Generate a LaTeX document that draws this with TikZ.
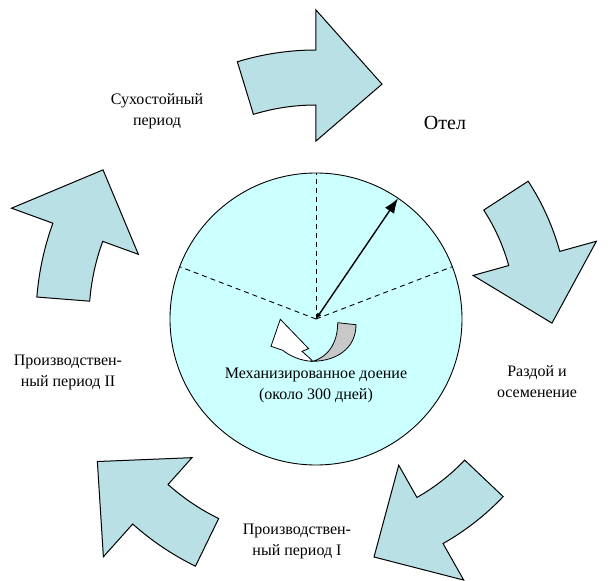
\documentclass[tikz,border=0pt]{standalone}
\usepackage{fontspec}
\setmainfont{Liberation Serif}
\RequirePackage{xcolor}
\definecolor{cyclegrey}{RGB}{185,224,228}
\definecolor{dialcyan}{RGB}{204,255,255}
\definecolor{bandgrey}{RGB}{200,200,200}
\usetikzlibrary{arrows.meta}
\tikzset{
  cyclearrow/.style={draw=black, line width=1pt, fill=cyclegrey, line join=miter},
  phase/.style={align=center, font=\fontsize{16}{21}\selectfont, inner sep=0pt},
}

\begin{document}
\begin{tikzpicture}[x=1pt, y=1pt]
  \useasboundingbox (-316,-262) rectangle (292,319);
  \coordinate (c) at (0,0);

  % milking dial
  \draw [fill=dialcyan, line width=0.9pt] (c) circle [radius=146];
  \foreach \a in {90,159,21} {
    \draw [dashed, line width=0.9pt, dash pattern=on 5pt off 4pt] (c) -- (\a:146);
  }
  \coordinate (hand) at (55.8:146);
  \draw [{Latex[length=6pt,width=5pt]}-{Latex[length=15pt,width=11pt]}, line width=1.4pt] (c) -- (hand);

  % small u-turn arrow
  \draw [fill=bandgrey, line width=0.8pt] (21.7,-3.7) -- (40,-5.7) .. controls (40,-29) and (21,-42) .. (-3.3,-42.3)
    .. controls (12,-38) and (21.7,-24) .. (21.7,-3.7) -- cycle;
  \draw [fill=white, line width=0.8pt] (-3.3,-42.3) .. controls (-15,-42) and (-26,-37) .. (-33.3,-31.3)
    -- (-45,-27.3) -- (-35.7,-0.3) -- (-7.3,-29.7) -- (-14,-32.3) .. controls (-10,-36) and (-6,-39) .. (-3.3,-42.3) -- cycle;

  % cycle arrows
  \foreach \ta/\na/\tipa/\ri/\ro/\bi/\bo/\tr in {
      107/90/74.3/214/269/178/309/244,
      33/15.5/-1/200/253/163/291/236,
      -43.5/-60.5/-76.3/205/258/168/300/245,
      244/228.2/213.1/222/275/186/319/261,
      175.5/160/145/227/280/189/324/260} {
    \draw [cyclearrow] (\ta:\ro) arc [start angle=\ta, end angle=\na, radius=\ro]
      -- (\na:\bo) -- (\tipa:\tr) -- (\na:\bi) -- (\na:\ri)
      arc [start angle=\na, end angle=\ta, radius=\ri] -- cycle;
  }

  % labels
  \node [phase] (dry) at (-159,208) {Сухостойный\\период};
  \node [phase, font=\fontsize{20}{24}\selectfont] (calving) at (129,196) {Отел};
  \node [phase] (raising) at (221,-63) {Раздой и\\осеменение};
  \node [phase] (prodtwo) at (-248,-53) {Производствен-\\ный период II};
  \node [phase] (prodone) at (-19,-222) {Производствен-\\ный период I};
  \node [phase] (milking) at (0,-66) {Механизированное доение\\(около 300 дней)};
\end{tikzpicture}
\end{document}
